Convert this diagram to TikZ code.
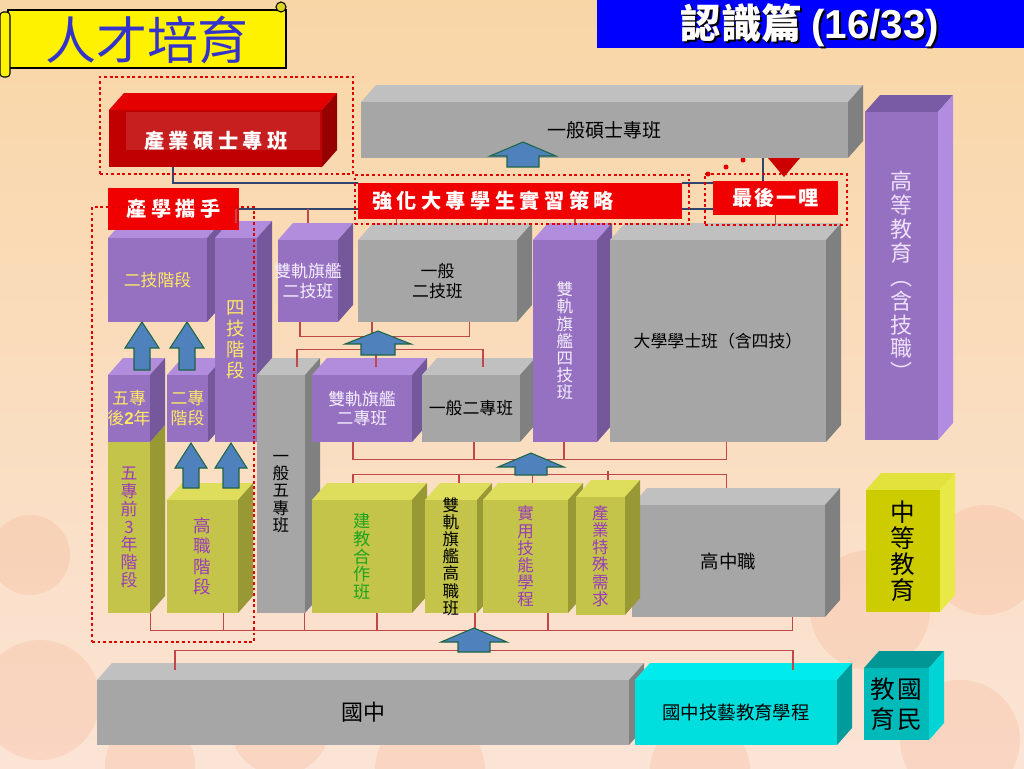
\documentclass[tikz,border=0pt]{standalone}
\usepackage{fontspec}
\setmainfont{Noto Sans CJK TC}
\newfontfamily\arial{Liberation Sans}
\newfontfamily\kai[LetterSpace=22]{Noto Sans CJK TC}
\newfontfamily\kaienger[LetterSpace=8]{Noto Sans CJK TC}
\usetikzlibrary{fit,calc}

\definecolor{bgoben}{RGB}{249,214,166}
\definecolor{bgmitte}{RGB}{254,246,236}
\definecolor{bgunten}{RGB}{251,228,214}
\definecolor{kreis}{RGB}{240,150,110}
\definecolor{titelblau}{RGB}{51,51,204}
\definecolor{kopfblau}{RGB}{0,0,255}
\definecolor{grauf}{RGB}{166,166,166}
\definecolor{graut}{RGB}{192,192,192}
\definecolor{graus}{RGB}{128,128,128}
\definecolor{lilaf}{RGB}{150,113,193}
\definecolor{lilat}{RGB}{178,140,221}
\definecolor{lilas}{RGB}{117,87,156}
\definecolor{hlilaf}{RGB}{150,113,193}
\definecolor{hlilat}{RGB}{120,90,165}
\definecolor{hlilas}{RGB}{178,140,225}
\definecolor{olivf}{RGB}{196,196,74}
\definecolor{olivt}{RGB}{222,222,92}
\definecolor{olivs}{RGB}{152,152,52}
\definecolor{rotf}{RGB}{192,0,0}
\definecolor{rott}{RGB}{228,0,0}
\definecolor{rots}{RGB}{150,0,0}
\definecolor{cyanf}{RGB}{0,222,222}
\definecolor{cyant}{RGB}{0,236,236}
\definecolor{cyans}{RGB}{0,155,155}
\definecolor{tealf}{RGB}{0,185,185}
\definecolor{tealt}{RGB}{0,150,150}
\definecolor{teals}{RGB}{0,212,212}
\definecolor{gelbf}{RGB}{204,204,0}
\definecolor{gelbt}{RGB}{226,226,60}
\definecolor{gelbs}{RGB}{232,232,70}
\definecolor{labrot}{RGB}{240,0,0}
\definecolor{punktrot}{RGB}{225,0,0}
\definecolor{linrot}{RGB}{192,72,72}
\definecolor{navy}{RGB}{48,68,108}
\definecolor{pfblau}{RGB}{79,129,189}
\definecolor{pfgruen}{RGB}{30,100,70}
\definecolor{gelbtxt}{RGB}{255,232,100}
\definecolor{helltxt}{RGB}{245,238,255}
\definecolor{lilatxt}{RGB}{155,60,185}
\definecolor{gruentxt}{RGB}{30,165,30}
\definecolor{lavtxt}{RGB}{238,225,252}

\newcommand{\tief}{15}
\newcommand{\hoch}{17}
% Quader: Name, x1, y1, x2, y2 (Vorderseite), Farbe, Textstil, Text
\newcommand{\quader}[8]{%
  \fill[#6t] (#2,#3) -- (#2+\tief,#3-\hoch) -- (#4+\tief,#3-\hoch) -- (#4,#3) -- cycle;
  \fill[#6s] (#4,#3) -- (#4+\tief,#3-\hoch) -- (#4+\tief,#5-\hoch) -- (#4,#5) -- cycle;
  \node[inner sep=0pt, fill=#6f, fit={(#2,#3) (#4,#5)}] (#1) {};
  \node[#7] (#1t) at (#1) {#8};
}
% Pfeil nach oben: x, Spitze, Kopfende, Fuss, halbe Kopfbreite, halbe Schaftbreite
\newcommand{\pfeil}[6]{%
  \filldraw[pf] (#1,#2) -- (#1+#5,#3) -- (#1+#6,#3) -- (#1+#6,#4) -- (#1-#6,#4) -- (#1-#6,#3) -- (#1-#5,#3) -- cycle;
}

\begin{document}
\begin{tikzpicture}[x=0.02cm, y=-0.02cm,
  tx/.style={inner sep=0pt, align=center, font={\fontsize{9.6}{11.3}\selectfont}},
  vt/.style={inner sep=0pt, align=center, font={\fontsize{9.4}{9.8}\selectfont}},
  lab/.style={inner sep=0pt, fill=labrot},
  labt/.style={inner sep=0pt, text=white, font={\kai\fontsize{11.5}{12}\selectfont\bfseries}},
  rahmen/.style={inner sep=0pt, draw=punktrot, line width=1.6pt, dash pattern=on 1.6pt off 1.6pt},
  rl/.style={draw=linrot, line width=0.9pt},
  nl/.style={draw=navy, line width=0.9pt},
  pf/.style={fill=pfblau, draw=pfgruen, line width=0.6pt}]
\useasboundingbox (0,0) rectangle (1024,768);

% Hintergrund
\shade[top color=bgoben, middle color=bgmitte, bottom color=bgunten] (0,0) rectangle (1024,768);
\foreach \x/\y/\r in {40/700/60, 150/765/45, 280/725/50, 430/770/55, 560/705/40, 615/560/40,
  700/770/50, 870/610/60, 985/560/55, 960/740/60, 30/555/40, 470/545/30}
  \fill[kreis, opacity=0.18] (\x,\y) circle[radius=\r];

% Titel
\filldraw[fill=yellow, draw=black, line width=0.6pt] (8,10) rectangle (286,68);
\filldraw[fill=yellow, draw=black, line width=0.6pt, rounded corners=2pt] (0,12) rectangle (10,77);
\filldraw[fill=yellow!85!black, draw=black, line width=0.6pt] (281,7) circle[radius=5];
\node[inner sep=0pt, text=titelblau, font={\fontsize{29}{30}\selectfont}] (titel) at (147,40) {人才培育};

% Kopfzeile
\fill[kopfblau] (597,0) rectangle (1024,48);
\node[inner sep=0pt, text=black, font={\fontsize{23}{24}\selectfont\bfseries}] (kopfs) at (812,27) {認識篇 {\arial (16/33)}};
\node[inner sep=0pt, text=white, font={\fontsize{23}{24}\selectfont\bfseries}] (kopf) at (810,25) {認識篇 {\arial (16/33)}};

% rotes Dreieck und Punkte
\fill[red!80!black] (768,158) -- (800,158) -- (784,177) -- cycle;
\foreach \x/\y in {743/160, 726/167, 708/174} \fill[punktrot] (\x,\y) circle[radius=2.5];

% Hochschule
\quader{ind}{109}{110}{322}{167}{rot}{tx}{}
\fill[white, opacity=0.12] (126,112) rectangle (320,150);
\node[labt] (indl) at (216,141) {產業碩士專班};
\quader{gms}{361}{102}{848}{158}{grau}{tx, font={\fontsize{10.8}{12}\selectfont}}{一般碩士專班}

% linke Saeule
\quader{er}{108}{238}{207}{322}{lila}{tx, text=gelbtxt}{二技階段}
\quader{ez}{167}{375}{208}{442}{lila}{tx, text=gelbtxt}{二專\\階段}
\quader{wq}{108}{442}{150}{613}{oliv}{vt, text=lilatxt, font={\fontsize{9.6}{10.1}\selectfont}}{五\\專\\前\\3\\年\\階\\段}
\quader{wh}{108}{375}{150}{442}{lila}{tx, text=gelbtxt}{五專\\後{\arial\bfseries 2}年}
\quader{si}{215}{238}{257}{442}{lila}{vt, text=gelbtxt, font={\fontsize{10.5}{11.9}\selectfont}}{四\\技\\階\\段}
\quader{gz}{167}{500}{238}{613}{oliv}{vt, text=lilatxt, font={\fontsize{10}{11.6}\selectfont}}{高\\職\\階\\段}
\quader{g5}{257}{375}{305}{613}{grau}{vt}{一\\般\\五\\專\\班}

% Mitte
\quader{dtwo}{278}{240}{338}{322}{lila}{tx, text=helltxt}{雙軌旗艦\\二技班}
\quader{gtwo}{358}{240}{517}{322}{grau}{tx}{一般\\二技班}
\quader{dzz}{312}{375}{412}{442}{lila}{tx, text=helltxt}{雙軌旗艦\\二專班}
\quader{g2}{422}{375}{520}{442}{grau}{tx}{一般二專班}
\quader{dsj}{533}{240}{597}{442}{lila}{vt, text=helltxt}{雙\\軌\\旗\\艦\\四\\技\\班}
\quader{uni}{610}{240}{826}{442}{grau}{tx}{大學學士班（含四技）}

% Sekundarstufe
\quader{jj}{312}{500}{412}{613}{oliv}{vt, text=gruentxt, font={\fontsize{9.8}{10}\selectfont}}{建\\教\\合\\作\\班}
\quader{dgz}{425}{500}{477}{613}{oliv}{vt}{雙\\軌\\旗\\艦\\高\\職\\班}
\quader{sy}{483}{500}{568}{613}{oliv}{vt, text=lilatxt}{實\\用\\技\\能\\學\\程}
\quader{hs}{632}{505}{825}{617}{grau}{tx, font={\fontsize{10.5}{12}\selectfont}}{高中職}
\quader{cy}{576}{497}{625}{615}{oliv}{vt, text=lilatxt}{產\\業\\特\\殊\\需\\求}

% Unterstufe
\quader{jh}{97}{680}{629}{745}{grau}{tx, font={\fontsize{12.5}{14}\selectfont}}{國中}
\quader{jt}{635}{680}{837}{745}{cyan}{tx, font={\fontsize{10.5}{12}\selectfont}}{國中技藝教育學程}

% Legende rechts
\quader{high}{865}{112}{938}{440}{hlila}{vt, text=lavtxt, font={\fontsize{12.5}{13.6}\selectfont}}{高\\等\\教\\育\\︵\\含\\技\\職\\︶}
\quader{mid}{866}{490}{940}{612}{gelb}{vt, font={\fontsize{14}{14.7}\selectfont}}{中\\等\\教\\育}
\quader{nat}{864}{668}{929}{740}{teal}{tx, font={\fontsize{14}{17}\selectfont}}{教\hspace{1.5pt}國\\育\hspace{1.5pt}民}

% rote Schilder
\node[lab, fit={(108,188) (239,230)}] (chx) {};
\node[labt] (chxt) at (chx) {產學攜手};
\node[lab, fit={(358,183) (682,219)}] (qh) {};
\node[labt, anchor=west] (qht) at ([xshift=14*0.02cm]qh.west) {強化大專學生實習策略};
\node[lab, fit={(713,181) (838,215)}] (last) {};
\node[labt, font={\kaienger\fontsize{11.5}{12}\selectfont\bfseries}] (lastt) at (last) {最後一哩};

% dunkle Linien
\coordinate (navA) at (0,183);
\draw[nl] ($(ind.south west)!.3!(ind.south east)$) |- (qh.west |- navA);
\draw[nl] (qh.east |- navA) -- (last.west |- navA);
\draw[nl] (chx.east) -- (qh.west |- chx.east);
\draw[nl] (qh.east |- chx.east) -- (last.west |- chx.east);
\coordinate (lk) at ($(last.north west)!.4!(last.north east)$);
\draw[nl] (lk) -- (lk |- gms.south);

% rote Stummel
\foreach \n in {si,dtwo} \draw[rl] (\n.north |- chx.east) -- ++(0,14);
\foreach \fr in {.12,.4,.67} \draw[rl] ($(qh.south west)!\fr!(qh.south east)$) -- ++(0,6);
\draw[rl] (last.south) -- ++(0,10);

% Klammern
\draw[rl] ($(dtwo.south west)!.37!(dtwo.south east)$) -- ++(0,14) -| ($(gtwo.south west)!.7!(gtwo.south east)$);
\draw[rl] ($(gtwo.south west)!.09!(gtwo.south east)$) -- ++(0,14);

\draw[rl] ($(g5.north west)!.83!(g5.north east)+(0,-8)$) -- ++(0,-17) -| ($(g2.north west)!.62!(g2.north east)+(0,-8)$);
\draw[rl] ($(dzz.north west)!.64!(dzz.north east)+(0,-8)$) -- ++(0,-17);

\draw[rl] ($(dzz.south west)!.41!(dzz.south east)$) -- ++(0,17) -| ($(uni.south west)!.54!(uni.south east)$);
\foreach \n/\fr in {g2/.53, dsj/.48} \draw[rl] ($(\n.south west)!\fr!(\n.south east)$) -- ++(0,17);

\draw[rl] ($(jj.north west)!.41!(jj.north east)+(0,-17)$) -- ++(0,-8) -| ($(hs.north west)!.49!(hs.north east)+(0,-17)$);
\foreach \n/\fr in {dgz/.65, sy/.58} \draw[rl] ($(\n.north west)!\fr!(\n.north east)+(0,-17)$) -- ++(0,-8);
\draw[rl] ($(cy.north west)!.65!(cy.north east)+(0,-17)$) -- ++(0,-9);

\draw[rl] (wq.south east) -- ++(0,17) -| ($(hs.south west)!.83!(hs.south east)$);
\foreach \n/\fr in {gz/.79, g5/.98, jj/.65, dgz/.96, sy/.76} \draw[rl] ($(\n.south west)!\fr!(\n.south east)$) -- ++(0,17);

\draw[rl] ($(jh.north west)!.147!(jh.north east)+(0,-10)$) -- ++(0,-19) -| ($(jt.north west)!.78!(jt.north east)+(0,-10)$);

% Pfeile
\pfeil{523}{142}{156}{167}{33}{16}
\pfeil{142}{322}{348}{370}{17}{8}
\pfeil{187}{322}{348}{370}{17}{8}
\pfeil{191}{443}{468}{488}{16}{8}
\pfeil{231}{443}{468}{488}{16}{8}
\pfeil{378}{331}{344}{355}{33}{17}
\pfeil{531}{453}{467}{475}{33}{16}
\pfeil{474}{628}{642}{652}{33}{16}

% gepunktete Rahmen
\node[rahmen, fit={(100,77) (353,174)}] (fa) {};
\node[rahmen, fit={(355,175) (689,224)}] (fb) {};
\node[rahmen, fit={(705,174) (847,225)}] (fc) {};
\node[rahmen, fit={(92,207) (254,642)}] (fd) {};
\end{tikzpicture}
\end{document}
